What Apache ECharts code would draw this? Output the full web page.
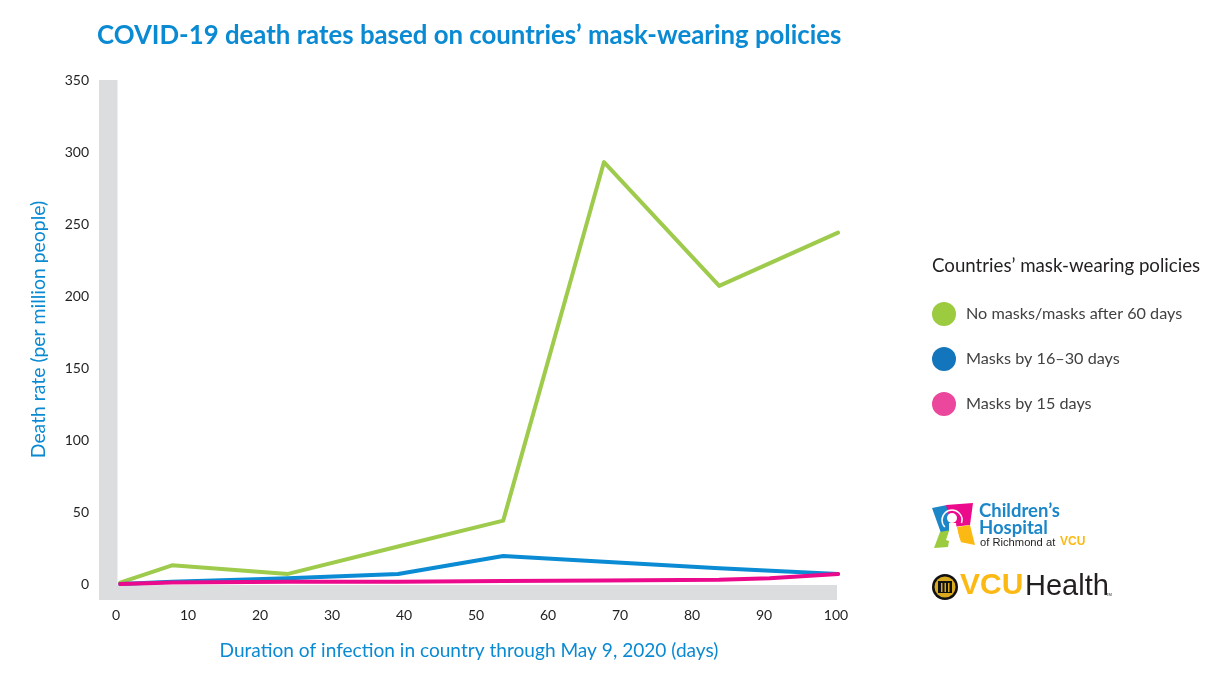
<!DOCTYPE html>
<html>
<head>
<meta charset="utf-8">
<style>
  html, body { margin: 0; background: #fff; }
  #main { width: 1217px; height: 676px; }
</style>
<script src="https://cdn.jsdelivr.net/npm/echarts@6/dist/echarts.min.js"></script>
</head>
<body>
<div id="main"></div>
<script>
const seriesNames = ['No masks/masks after 60 days', 'Masks by 16–30 days', 'Masks by 15 days']
const noMasks = [[0.3, 1], [7.5, 13], [23.6, 7], [38.9, 26], [53.5, 44], [67.5, 293], [83.5, 207], [100, 244]]
const masks16to30 = [[0.3, 0], [7.5, 1.5], [23.6, 4], [38.9, 7], [53.5, 19.5], [67.5, 15.5], [83.5, 11], [100, 7]]
const masks15 = [[0.3, 0], [7.5, 1], [23.6, 1.5], [38.9, 1.5], [53.5, 2], [67.5, 2.5], [83.5, 3], [90.5, 4], [100, 7]]
const lineColors = ['#9ecb4c', '#0a8bd3', '#ec0a8c']
const legendColors = ['#9ccb3f', '#1375bb', '#ea479d']

const FONT = 'Lato'
const BLUE = '#0a8ad2'
const GREY = '#dcddde'

const line = (name, data, color) => ({
  name,
  type: 'line',
  data,
  symbol: 'none',
  silent: true,
  animation: false,
  lineStyle: { color, width: 4, cap: 'round', join: 'round' },
  itemStyle: { color }
})

const poly = (points, fill) => ({ type: 'polygon', shape: { points }, style: { fill } })
const txt = (x, y, text, font, fill) => ({ type: 'text', x, y, style: { text, font, fill } })

let myChart = echarts.init(document.getElementById('main'), null, { renderer: 'canvas' })
myChart.setOption({
  animation: false,
  backgroundColor: '#fff',
  title: [
    {
      text: 'COVID-19 death rates based on countries’ mask-wearing policies',
      left: 92, top: 18,
      textStyle: { color: BLUE, fontFamily: FONT, fontWeight: 'bold', fontSize: 25.8 }
    },
    {
      text: 'Countries’ mask-wearing policies',
      left: 927, top: 251,
      textStyle: { color: '#231f20', fontFamily: FONT, fontWeight: 'normal', fontSize: 18.7 }
    }
  ],
  legend: {
    orient: 'vertical',
    left: 927, top: 297,
    itemWidth: 24, itemHeight: 24, itemGap: 21,
    selectedMode: false,
    textStyle: { color: '#414042', fontFamily: FONT, fontSize: 16.2, padding: [0, 0, 0, 5] },
    data: seriesNames.map((name, i) => ({ name, icon: 'circle', itemStyle: { color: legendColors[i] } }))
  },
  grid: { left: 118, right: 379, top: 80, bottom: 92 },
  xAxis: {
    type: 'value',
    min: 0, max: 100, interval: 10,
    name: 'Duration of infection in country through May 9, 2020 (days)',
    nameLocation: 'middle',
    nameGap: 57,
    nameTextStyle: { color: BLUE, fontFamily: FONT, fontSize: 19.1, padding: [0, 18, 0, 0] },
    axisLine: { show: false },
    axisTick: { show: false },
    splitLine: { show: false },
    axisLabel: { color: '#231f20', fontFamily: FONT, fontSize: 14, margin: 24, padding: [0, 4, 0, 0] }
  },
  yAxis: {
    type: 'value',
    min: 0, max: 350, interval: 50,
    name: 'Death rate (per million people)',
    nameLocation: 'middle',
    nameGap: 70,
    nameTextStyle: { color: BLUE, fontFamily: FONT, fontSize: 19.4, padding: [0, 0, 0, 5] },
    axisLine: { show: false },
    axisTick: { show: false },
    splitLine: { show: false },
    axisLabel: { color: '#231f20', fontFamily: FONT, fontSize: 14, margin: 29 }
  },
  series: [
    line(seriesNames[0], noMasks, lineColors[0]),
    line(seriesNames[1], masks16to30, lineColors[1]),
    line(seriesNames[2], masks15, lineColors[2])
  ],
  graphic: [
    // grey L behind the plot
    { type: 'rect', z: -1, shape: { x: 99, y: 80, width: 18.5, height: 520 }, style: { fill: GREY } },
    { type: 'rect', z: -1, shape: { x: 99, y: 585, width: 738, height: 15 }, style: { fill: GREY } },
    // children's hospital logo
    poly([[932, 508], [947, 505], [953, 533], [941, 533]], '#1b87c9'),
    poly([[946, 505], [973, 503], [970, 525], [952, 527]], '#ec0a8c'),
    poly([[940, 532], [951, 530], [948, 547], [934, 548]], '#9ccb3f'),
    poly([[957, 527], [970, 525], [975, 545], [960, 542]], '#fdb913'),
    { type: 'arc', shape: { cx: 952, cy: 520, r: 10, startAngle: Math.PI * 0.75, endAngle: Math.PI * 2.1 }, style: { stroke: '#fff', lineWidth: 1.5, fill: null } },
    { type: 'circle', shape: { cx: 952, cy: 518, r: 5 }, style: { fill: '#fff' } },
    poly([[949, 523], [956, 523], [957, 531], [961, 542], [956, 542], [953, 535], [949, 541], [946, 540], [949, 531]], '#fff'),
    txt(979, 502, 'Children’s', 'bold 18.5px ' + FONT, '#1b87c9'),
    txt(979, 519, 'Hospital', 'bold 18.5px ' + FONT, '#1b87c9'),
    txt(980, 537, 'of Richmond at', '11.2px Liberation Sans', '#231f20'),
    txt(1060, 536, 'VCU', 'bold 12px Liberation Sans', '#fdb913'),
    // vcu health logo
    { type: 'circle', shape: { cx: 945, cy: 587, r: 13 }, style: { fill: '#111' } },
    { type: 'circle', shape: { cx: 945, cy: 587, r: 10.5 }, style: { fill: '#d9a91f' } },
    { type: 'rect', shape: { x: 938, y: 581, width: 14, height: 12 }, style: { fill: '#111' } },
    { type: 'rect', shape: { x: 941, y: 583, width: 1.5, height: 9 }, style: { fill: '#d9a91f' } },
    { type: 'rect', shape: { x: 944.5, y: 583, width: 1.5, height: 9 }, style: { fill: '#d9a91f' } },
    { type: 'rect', shape: { x: 948, y: 583, width: 1.5, height: 9 }, style: { fill: '#d9a91f' } },
    txt(960, 571, 'VCU', 'bold 30px Liberation Sans', '#fdb913'),
    txt(1025, 572, 'Health', '29px Liberation Sans', '#231f20'),
    txt(1106, 593, 'TM', '4px Liberation Sans', '#231f20')
  ]
})
</script>
</body>
</html>
